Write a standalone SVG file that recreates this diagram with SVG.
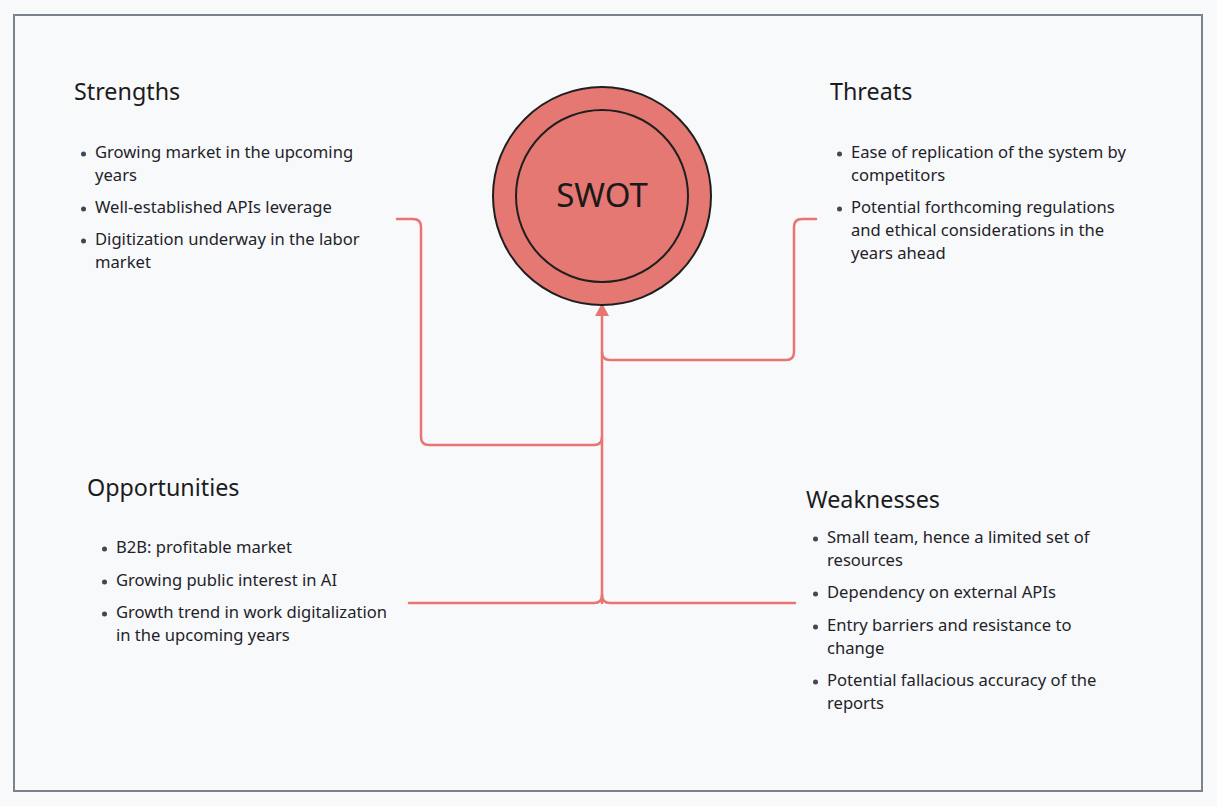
<svg xmlns="http://www.w3.org/2000/svg" width="1217" height="806" viewBox="0 0 1217 806">
<defs>
<style>
.title{font-family:"Noto Sans","Open Sans",sans-serif;font-size:23.3px;fill:#1c1c1c}
.body{font-family:"Noto Sans","Open Sans",sans-serif;font-size:16.6px;fill:#1f2329}
.dot{fill:#3f4756}
.conn{fill:none;stroke:#e8756f;stroke-width:2.5;stroke-linecap:round;stroke-linejoin:round}
</style>
</defs>
<rect x="0" y="0" width="1217" height="806" fill="#f8f9fb"/>
<rect x="14" y="15" width="1188" height="776" fill="#f8f9fb" stroke="#7a828c" stroke-width="2"/>

<g id="connectors">
<path class="conn" d="M602,603 L602,310"/>
<path class="conn" d="M397,219 L413,219 Q421,219 421,227 L421,437 Q421,445 429,445 L594,445 Q602,445 602,437"/>
<path class="conn" d="M816,219 L802,219 Q794,219 794,227 L794,352 Q794,360 786,360 L610,360 Q602,360 602,352"/>
<path class="conn" d="M409,603 L594,603 Q602,603 602,595"/>
<path class="conn" d="M795,603 L610,603 Q602,603 602,595"/>
<path d="M595,316 L602,303 L609,316 Z" fill="#e8756f"/>
</g>

<g id="swot">
<circle cx="602" cy="196" r="109" fill="#e57873" stroke="#1f1f1f" stroke-width="2"/>
<circle cx="602" cy="196" r="86" fill="#e57873" stroke="#1f1f1f" stroke-width="2"/>
<text x="602" y="207" text-anchor="middle" style="font-family:'Noto Sans','Open Sans',sans-serif;font-size:33px;fill:#1a1a1a">SWOT</text>
</g>

<g id="strengths">
<text class="title" x="74" y="100">Strengths</text>
<circle class="dot" cx="83.5" cy="154" r="2.5"/>
<text class="body" x="95" y="158">Growing market in the upcoming</text>
<text class="body" x="95" y="181">years</text>
<circle class="dot" cx="83.5" cy="209" r="2.5"/>
<text class="body" x="95" y="213">Well-established APIs leverage</text>
<circle class="dot" cx="83.5" cy="241" r="2.5"/>
<text class="body" x="95" y="245">Digitization underway in the labor</text>
<text class="body" x="95" y="268">market</text>
</g>

<g id="threats">
<text class="title" x="830" y="100">Threats</text>
<circle class="dot" cx="839.5" cy="154" r="2.5"/>
<text class="body" x="851" y="158">Ease of replication of the system by</text>
<text class="body" x="851" y="181">competitors</text>
<circle class="dot" cx="839.5" cy="209" r="2.5"/>
<text class="body" x="851" y="213">Potential forthcoming regulations</text>
<text class="body" x="851" y="236">and ethical considerations in the</text>
<text class="body" x="851" y="259">years ahead</text>
</g>

<g id="opportunities">
<text class="title" x="87" y="496">Opportunities</text>
<circle class="dot" cx="104.5" cy="549" r="2.5"/>
<text class="body" x="116" y="553">B2B: profitable market</text>
<circle class="dot" cx="104.5" cy="582" r="2.5"/>
<text class="body" x="116" y="586">Growing public interest in AI</text>
<circle class="dot" cx="104.5" cy="614" r="2.5"/>
<text class="body" x="116" y="618">Growth trend in work digitalization</text>
<text class="body" x="116" y="641">in the upcoming years</text>
</g>

<g id="weaknesses">
<text class="title" x="806" y="508">Weaknesses</text>
<circle class="dot" cx="815.5" cy="539" r="2.5"/>
<text class="body" x="827" y="543">Small team, hence a limited set of</text>
<text class="body" x="827" y="566">resources</text>
<circle class="dot" cx="815.5" cy="594" r="2.5"/>
<text class="body" x="827" y="598">Dependency on external APIs</text>
<circle class="dot" cx="815.5" cy="627" r="2.5"/>
<text class="body" x="827" y="631">Entry barriers and resistance to</text>
<text class="body" x="827" y="654">change</text>
<circle class="dot" cx="815.5" cy="682" r="2.5"/>
<text class="body" x="827" y="686">Potential fallacious accuracy of the</text>
<text class="body" x="827" y="709">reports</text>
</g>
</svg>
